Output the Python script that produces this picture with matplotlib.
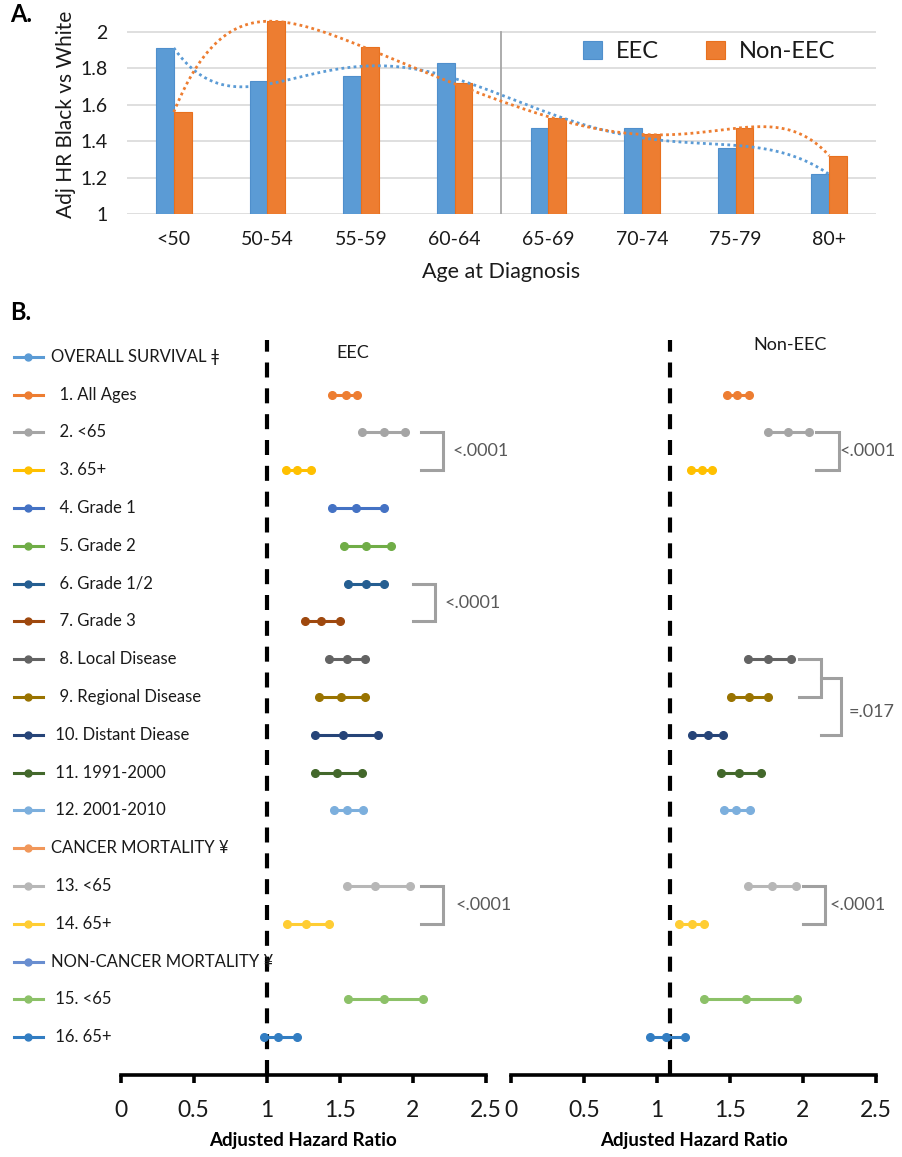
import numpy as np
import matplotlib
matplotlib.use("Agg")
import matplotlib.pyplot as plt

plt.rcParams['font.family'] = ['Lato', 'DejaVu Sans']

# ---------------- Panel A data ----------------
age_groups = ["<50", "50-54", "55-59", "60-64", "65-69", "70-74", "75-79", "80+"]
eec_hr = [1.91, 1.73, 1.76, 1.83, 1.47, 1.47, 1.36, 1.22]
noneec_hr = [1.56, 2.06, 1.92, 1.72, 1.53, 1.44, 1.47, 1.32]
a_yticks = [1, 1.2, 1.4, 1.6, 1.8, 2]

# ---------------- Panel B data ----------------
row_labels = ["OVERALL SURVIVAL ǂ", "  1. All Ages", "  2. <65", "  3. 65+", "  4. Grade 1",
              "  5. Grade 2", "  6. Grade 1/2", "  7. Grade 3", "  8. Local Disease",
              "  9. Regional Disease", " 10. Distant Diease", " 11. 1991-2000", " 12. 2001-2010",
              "CANCER MORTALITY ¥", " 13. <65", " 14. 65+", "NON-CANCER MORTALITY ¥",
              " 15. <65", " 16. 65+"]
row_colors = ["#5B9BD5", "#ED7D31", "#A5A5A5", "#FFC000", "#4472C4", "#70AD47", "#255E91",
              "#9E480E", "#636363", "#997300", "#264478", "#43682B", "#7CAFDD", "#F1975A",
              "#B7B7B7", "#FFCD33", "#698ED0", "#8CC168", "#327DC2"]
# (lower CI, HR, upper CI); None = no estimate
eec_ci = [None, (1.45, 1.54, 1.62), (1.65, 1.80, 1.95), (1.13, 1.21, 1.30), (1.45, 1.61, 1.80),
          (1.53, 1.68, 1.85), (1.56, 1.68, 1.80), (1.26, 1.37, 1.50), (1.43, 1.55, 1.67),
          (1.36, 1.51, 1.67), (1.33, 1.52, 1.76), (1.33, 1.48, 1.65), (1.46, 1.55, 1.66),
          None, (1.55, 1.74, 1.98), (1.14, 1.27, 1.43), None, (1.56, 1.80, 2.07),
          (0.98, 1.08, 1.21)]
noneec_ci = [None, (1.48, 1.55, 1.63), (1.76, 1.90, 2.04), (1.23, 1.31, 1.38), None, None,
             None, None, (1.62, 1.76, 1.92), (1.51, 1.63, 1.76), (1.24, 1.35, 1.45),
             (1.44, 1.56, 1.71), (1.46, 1.54, 1.64), None, (1.62, 1.79, 1.95),
             (1.15, 1.24, 1.32), None, (1.32, 1.61, 1.96), (0.95, 1.06, 1.19)]
b_xticks = [0, 0.5, 1, 1.5, 2, 2.5]
ref_eec = 1.0
ref_noneec = 1.09
# p-value brackets: (row_a, row_b, x_left, x_right, label, x_text)
eec_brackets = [(2, 3, 2.06, 2.21, "<.0001", 2.27),
                (6, 7, 2.00, 2.15, "<.0001", 2.22),
                (14, 15, 2.06, 2.21, "<.0001", 2.29)]
noneec_brackets = [(2, 3, 2.09, 2.25, "<.0001", 2.25),
                   (8, 9, 1.97, 2.12, None, None),
                   (14, 15, 2.00, 2.15, "<.0001", 2.18)]

W, H = 903, 1157
fig = plt.figure(figsize=(W / 100, H / 100), dpi=100)

def fx(px):
    return px / W

def fy(py):
    return 1 - py / H

TXT = "#1a1a1a"

# ================= Panel A =================
axA = fig.add_axes([fx(127), fy(214), fx(876 - 127), (214 - 13.8) / H])
x = np.arange(len(age_groups))
bw = 0.19
axA.bar(x - bw / 2, np.array(eec_hr) - 1, bw, bottom=1, color="#5B9BD5", edgecolor="#4F8FCC",
        linewidth=0.8, label="EEC", zorder=3)
axA.bar(x + bw / 2, np.array(noneec_hr) - 1, bw, bottom=1, color="#ED7D31", edgecolor="#E8701E",
        linewidth=0.8, label="Non-EEC", zorder=3)
# polynomial (order 6) trendlines, Excel style
xs = np.linspace(0, len(age_groups) - 1, 300)
for vals, col in [(eec_hr, "#5B9BD5"), (noneec_hr, "#ED7D31")]:
    coef = np.polyfit(x + 1, vals, 6)
    axA.plot(xs, np.polyval(coef, xs + 1), linestyle=(0, (1, 1.2)), color=col, lw=2, zorder=4)
axA.plot([3.5, 3.5], [1, 2], color="#A6A6A6", lw=1.3, zorder=2)
axA.set_xlim(-0.5, len(age_groups) - 0.5)
axA.set_ylim(1, 2.1)
axA.set_yticks(a_yticks)
axA.set_yticklabels(["1", "1.2", "1.4", "1.6", "1.8", "2"])
axA.set_xticks(x)
axA.set_xticklabels(age_groups)
axA.grid(axis="y", color="#D9D9D9", lw=1.2, zorder=0)
for s in axA.spines.values():
    s.set_visible(False)
axA.tick_params(axis="both", length=0, labelsize=14, colors=TXT)
axA.tick_params(axis="y", pad=14)
axA.tick_params(axis="x", pad=12)
axA.set_ylabel("Adj HR Black vs White", fontsize=15, labelpad=3, color=TXT)
axA.set_xlabel("Age at Diagnosis", fontsize=15.5, labelpad=10, color=TXT)
leg = axA.legend(loc="upper left", bbox_to_anchor=(0.58, 0.97), ncol=2, frameon=False,
                 fontsize=17, handlelength=0.8, handleheight=0.8, columnspacing=2.0,
                 handletextpad=0.6)
for t in leg.get_texts():
    t.set_color(TXT)
fig.text(fx(10), fy(15), "A.", fontsize=17, fontweight="bold", va="center", ha="left")
fig.text(fx(10), fy(313), "B.", fontsize=17, fontweight="bold", va="center", ha="left")

# ================= Panel B =================
y_bot_row, y_top_row = 19.0, -0.71
bottom = fy(1075)
height = (1075 - 330) / H

def setup_forest(ax):
    ax.set_xlim(0, 2.5)
    ax.set_ylim(y_bot_row, y_top_row)
    for k in ["left", "right", "top"]:
        ax.spines[k].set_visible(False)
    ax.spines["bottom"].set_linewidth(2.6)
    ax.set_yticks([])
    ax.set_xticks(b_xticks)
    ax.set_xticklabels(["0", "0.5", "1", "1.5", "2", "2.5"])
    ax.tick_params(axis="x", direction="out", length=6, width=2.6, labelsize=16.5, pad=12,
                   labelcolor=TXT)
    ax.set_xlabel("Adjusted Hazard Ratio", fontsize=13.5, fontweight="bold", labelpad=8)
    ax.patch.set_alpha(0)

def draw_forest(ax, cis, ref, brackets):
    ax.plot([ref, ref], [y_bot_row, -0.45], color="black", lw=3,
            linestyle=(0, (3.6, 2.6)), zorder=2)
    for i, ci in enumerate(cis):
        if ci is None:
            continue
        ax.plot(list(ci), [i, i, i], color=row_colors[i], lw=2.2, marker="o", ms=5.5, zorder=3)
    for ra, rb, xl, xr, lab, xt in brackets:
        ax.plot([xl, xr, xr, xl], [ra, ra, rb, rb], color="#A0A0A0", lw=2.2,
                solid_joinstyle="miter", clip_on=False)
        if lab:
            ax.text(xt, (ra + rb) / 2, lab, fontsize=13, color="#595959", va="center",
                    ha="left")

axL = fig.add_axes([fx(120.7), bottom, 365 / W, height])
setup_forest(axL)
draw_forest(axL, eec_ci, ref_eec, eec_brackets)
axL.text(1.59, -0.1, "EEC", fontsize=13, ha="center", va="center", color=TXT)

axR = fig.add_axes([fx(511), bottom, 365 / W, height])
setup_forest(axR)
draw_forest(axR, noneec_ci, ref_noneec, noneec_brackets)
axR.text(1.91, -0.3, "Non-EEC", fontsize=13, ha="center", va="center", color=TXT)
# connector for the local vs regional vs distant comparison
axR.plot([2.12, 2.26, 2.26, 2.12], [8.5, 8.5, 10, 10], color="#A0A0A0", lw=2.2,
         solid_joinstyle="miter", clip_on=False)
axR.text(2.31, 9.4, "=.017", fontsize=13, color="#595959", va="center", ha="left")

# legend column (Excel-style series legend)
axG = fig.add_axes([0, bottom, 1, height])
axG.set_xlim(0, W)
axG.set_ylim(y_bot_row, y_top_row)
axG.axis("off")
axG.patch.set_alpha(0)
for i, (lab, col) in enumerate(zip(row_labels, row_colors)):
    axG.plot([14, 43], [i, i], color=col, lw=2.2, zorder=3)
    axG.plot([28.5], [i], color=col, marker="o", ms=5, zorder=4)
    axG.text(51, i, lab, fontsize=12, va="center", ha="left", color=TXT)

fig.savefig("out.png", dpi=100)
